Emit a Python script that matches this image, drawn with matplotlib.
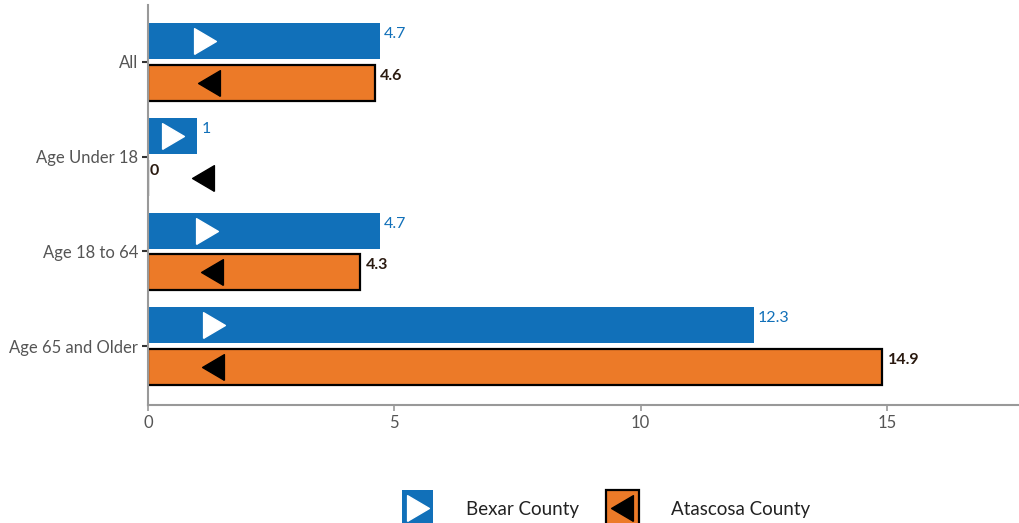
import matplotlib
matplotlib.use("Agg")
import matplotlib.pyplot as plt
from matplotlib.patches import Rectangle
from matplotlib.lines import Line2D
import numpy as np

plt.rcParams['font.family'] = ['Lato', 'DejaVu Sans']

categories = ['All', 'Age Under 18', 'Age 18 to 64', 'Age 65 and Older']
bexar = [4.7, 1, 4.7, 12.3]
atascosa = [4.6, 0, 4.3, 14.9]
bexar_labels = ['4.7', '1', '4.7', '12.3']
atascosa_labels = ['4.6', '0', '4.3', '14.9']
# where the triangle markers sit along the x axis
bexar_marker_x = [1.16, 0.51, 1.2, 1.34]
atascosa_marker_x = [1.24, 1.12, 1.3, 1.32]

BLUE = '#1170b9'
ORANGE = '#ec7a28'
GREY = '#999999'
TXT = '#555555'

tri_right = [(-0.85, -1), (0.85, 0), (-0.85, 1), (-0.85, -1)]
tri_left = [(0.85, -1), (-0.85, 0), (0.85, 1), (0.85, -1)]

fig = plt.figure(figsize=(10.2, 5.23), dpi=100)
ax = fig.add_axes([148 / 1020, 1 - 405 / 523, 1 - 148 / 1020, (405 - 5) / 523])

y = np.arange(len(categories))
off = 0.22
h = 0.38

ax.barh(y - off, bexar, height=h, color=BLUE, edgecolor='none')
ax.barh(y + off, atascosa, height=h, color=ORANGE, edgecolor='black', linewidth=1.6)

for i in range(len(categories)):
    ax.plot(bexar_marker_x[i], y[i] - off, marker=tri_right, markersize=18.5,
            color='white', linestyle='none')
    ax.plot(atascosa_marker_x[i], y[i] + off, marker=tri_left, markersize=18.5,
            color='black', linestyle='none')
    ax.annotate(bexar_labels[i], (bexar[i], y[i] - off), xytext=(3, 5),
                textcoords='offset points', va='center', ha='left',
                color=BLUE, fontsize=11.5)
    pad = 4 if atascosa[i] > 0 else 1
    ax.annotate(atascosa_labels[i], (atascosa[i], y[i] + off), xytext=(pad, 5),
                textcoords='offset points', va='center', ha='left',
                color='#2a1a10', fontsize=11.5, fontweight='bold')

ax.set_xlim(0, 17.7)
ax.set_ylim(3.62, -0.6)
ax.set_yticks(y)
ax.set_yticklabels(categories)
ax.set_xticks([0, 5, 10, 15])

for s in ['top', 'right']:
    ax.spines[s].set_visible(False)
for s in ['left', 'bottom']:
    ax.spines[s].set_color(GREY)
    ax.spines[s].set_linewidth(1.5)

ax.tick_params(axis='y', length=4, width=1.5, color='#333333', labelcolor=TXT,
               labelsize=12, pad=3)
ax.tick_params(axis='x', length=4, width=1.2, color=GREY, labelcolor=TXT,
               labelsize=12, pad=3)

# legend drawn by hand at the bottom edge
fig.add_artist(Rectangle((402 / 1020, -0.01), 31 / 1020, 0.073,
                         transform=fig.transFigure, facecolor=BLUE,
                         edgecolor='none'))
fig.add_artist(Line2D([418 / 1020], [1 - 508 / 523], transform=fig.transFigure,
                      marker=tri_right, markersize=18.5, color='white',
                      linestyle='none'))
fig.text(466 / 1020, 1 - 510 / 523, 'Bexar County', fontsize=13.5,
         color='#222222', va='center', ha='left')

fig.add_artist(Rectangle((606 / 1020, -0.01), 33 / 1020, 0.073,
                         transform=fig.transFigure, facecolor=ORANGE,
                         edgecolor='black', linewidth=1.6))
fig.add_artist(Line2D([622 / 1020], [1 - 508 / 523], transform=fig.transFigure,
                      marker=tri_left, markersize=18.5, color='black',
                      linestyle='none'))
fig.text(671 / 1020, 1 - 510 / 523, 'Atascosa County', fontsize=13.5,
         color='#222222', va='center', ha='left')

fig.savefig('out.png', dpi=100)
